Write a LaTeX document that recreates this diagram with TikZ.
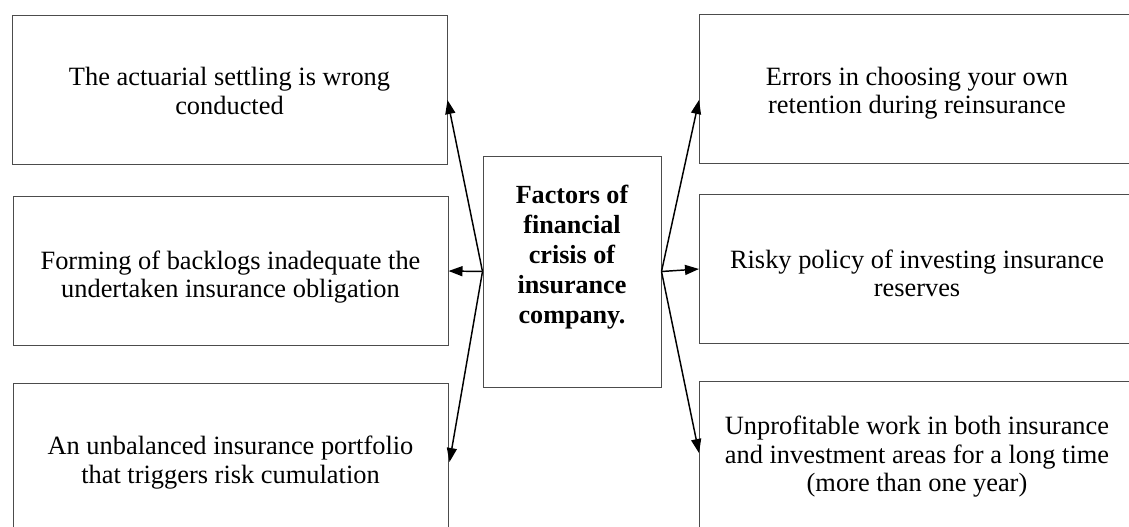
\documentclass[tikz,border=0pt]{standalone}
\usepackage{fontspec}
\setmainfont{Liberation Serif}
\usetikzlibrary{arrows.meta,calc}
\begin{document}
\begin{tikzpicture}[x=0.75pt,y=-0.75pt,
  factor/.style={draw=black!70,line width=0.75pt,minimum width=435*0.75pt,
    minimum height=149*0.75pt,inner sep=0pt},
  factortext/.style={align=center,inner sep=0pt,
    font=\fontsize{19.8}{21.4}\selectfont},
  hub/.style={draw=black!70,line width=0.75pt,minimum width=178*0.75pt,
    minimum height=231*0.75pt,inner sep=0pt},
  arr/.style={line width=1.1pt,-{Triangle[length=10.5pt,width=7.5pt]}}]
\useasboundingbox (0,0) rectangle (1129,526);

% left column
\node[factor] (l1) at (229.5,89.5) {};
\node[factor] (l2) at (230.5,271) {};
\node[factor] (l3) at (230.5,457.5) {};
\node[factortext] (l1t) at (229.5,91) {The actuarial settling is wrong\\conducted};
\node[factortext] (l2t) at (230.5,277) {Forming of backlogs inadequate the\\undertaken insurance obligation};
\node[factortext] (l3t) at (230.5,462.5) {An unbalanced insurance portfolio\\that triggers risk cumulation};

% right column
\node[factor] (r1) at (917,88.5) {};
\node[factor] (r2) at (917,269) {};
\node[factor] (r3) at (917,456) {};
\node[factortext] (r1t) at (917,93) {Errors in choosing your own\\retention during reinsurance};
\node[factortext] (r2t) at (917,273.5) {Risky policy of investing insurance\\reserves};
\node[factortext] (r3t) at (917,457) {Unprofitable work in both insurance\\and investment areas for a long time\\(more than one year)};

% central box
\node[hub] (c) at (572,271.5) {};
\node[align=center,font=\fontsize{19.6}{22.6}\selectfont\bfseries] (ct) at (572,257)
  {Factors of\\financial\\crisis of\\insurance\\company.};

% arrows
\draw[arr] (c.west) -- ($(l1.east)+(0,10.5)$);
\draw[arr] (c.west) -- (l2.east);
\draw[arr] (c.west) -- ($(l3.east)+(1,4.5)$);
\draw[arr] (c.east) -- ($(r1.west)+(0,11.5)$);
\draw[arr] (c.east) -- (r2.west);
\draw[arr] (c.east) -- ($(r3.west)+(0,-3)$);
\end{tikzpicture}
\end{document}
